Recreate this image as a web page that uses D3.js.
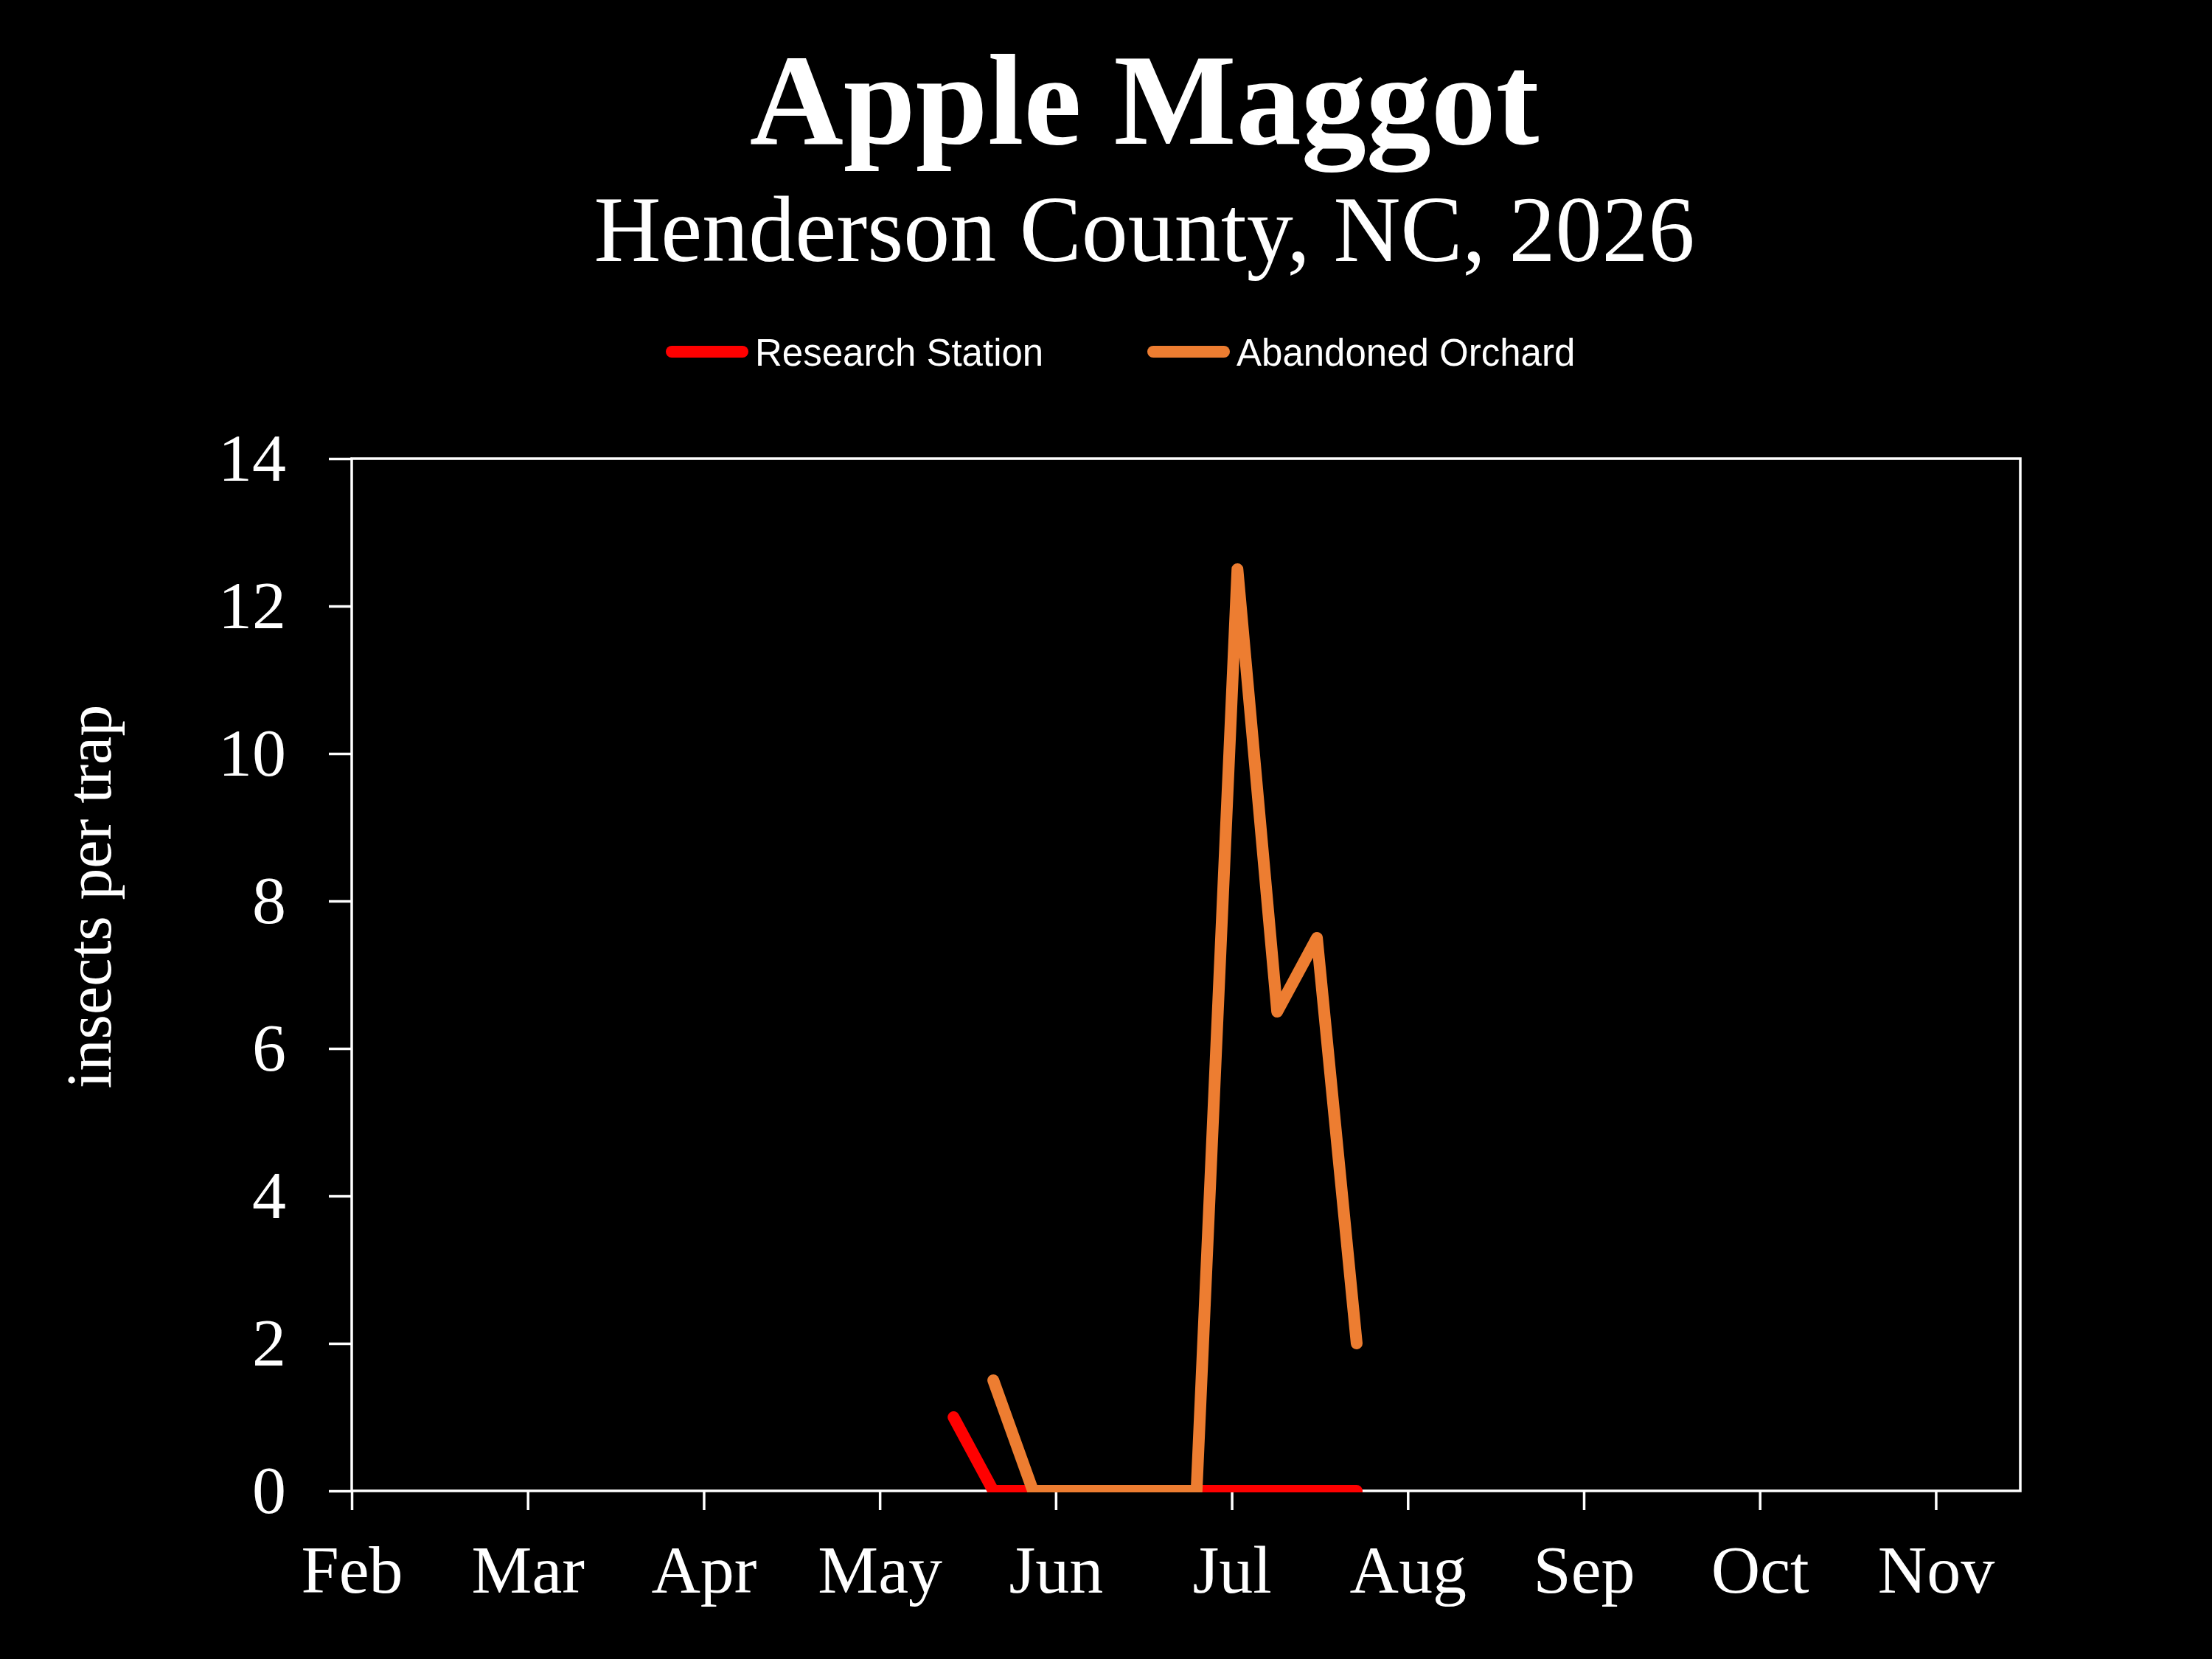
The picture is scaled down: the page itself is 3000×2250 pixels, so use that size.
<!DOCTYPE html>
<html>
<head>
<meta charset="utf-8">
<script src="https://cdn.jsdelivr.net/npm/d3@7"></script>
<style>
  html, body { margin: 0; padding: 0; background: #000; }
  svg { display: block; }
</style>
</head>
<body>
<div id="chart"></div>
<script>
// ---- Data ----
const monthLabels = ["Feb", "Mar", "Apr", "May", "Jun", "Jul", "Aug", "Sep", "Oct", "Nov"];
const yTicks = [0, 2, 4, 6, 8, 10, 12, 14];

const researchDates = ["2026-05-14", "2026-05-21", "2026-05-28", "2026-06-04", "2026-06-11",
  "2026-06-18", "2026-06-25", "2026-07-02", "2026-07-09", "2026-07-16", "2026-07-23"];
const researchValues = [1, 0, 0, 0, 0, 0, 0, 0, 0, 0, 0];

const orchardDates = ["2026-05-21", "2026-05-28", "2026-06-04", "2026-06-11", "2026-06-18",
  "2026-06-25", "2026-07-02", "2026-07-09", "2026-07-16", "2026-07-23"];
const orchardValues = [1.5, 0, 0, 0, 0, 0, 12.5, 6.5, 7.5, 2];

const seriesNames = ["Research Station", "Abandoned Orchard"];
const seriesColors = ["#FF0000", "#ED7D31"];

// ---- Layout ----
const W = 3000, H = 2250;
const plot = { left: 477, right: 2740, top: 622, bottom: 2022 };
const serif = "'Liberation Serif', 'DejaVu Serif', serif";
const sans = "'Liberation Sans', Arial, sans-serif";

// fractional month index from Feb 1
function monthPos(s) {
  const [y, m, d] = s.split("-").map(Number);
  const days = new Date(y, m, 0).getDate();
  return (m - 2) + (d - 1) / days;
}

const x = d3.scaleLinear().domain([0, 9.48]).range([plot.left, plot.right]);
const y = d3.scaleLinear().domain([0, 14]).range([plot.bottom, plot.top]);

const svg = d3.select("#chart").append("svg")
  .attr("width", W).attr("height", H)
  .style("background", "#000");

svg.append("rect").attr("width", W).attr("height", H).attr("fill", "#000");

// Titles
const cx = 1552;
svg.append("text").attr("x", cx).attr("y", 195)
  .attr("text-anchor", "middle").attr("fill", "#fff")
  .style("font-family", serif).style("font-weight", "bold").style("font-size", "176px")
  .text("Apple Maggot");
svg.append("text").attr("x", cx).attr("y", 354)
  .attr("text-anchor", "middle").attr("fill", "#fff")
  .style("font-family", serif).style("font-size", "126px")
  .text("Henderson County, NC, 2026");

// Legend
const legendItems = [
  { name: seriesNames[0], color: seriesColors[0], x0: 911, x1: 1007, tx: 1024 },
  { name: seriesNames[1], color: seriesColors[1], x0: 1564, x1: 1660, tx: 1677 }
];
const lg = svg.append("g");
legendItems.forEach(it => {
  lg.append("line").attr("x1", it.x0).attr("x2", it.x1).attr("y1", 477).attr("y2", 477)
    .attr("stroke", it.color).attr("stroke-width", 16).attr("stroke-linecap", "round");
  lg.append("text").attr("x", it.tx).attr("y", 496).attr("fill", "#fff")
    .style("font-family", sans).style("font-size", "51px")
    .text(it.name);
});

// Y axis
const yAxis = d3.axisLeft(y).tickValues(yTicks).tickSizeInner(31).tickSizeOuter(0).tickPadding(58);
const gy = svg.append("g").attr("transform", `translate(${plot.left},0)`).call(yAxis);
gy.select(".domain").remove();
gy.selectAll(".tick line").attr("stroke", "#fff").attr("stroke-width", 3.5);
gy.selectAll(".tick text").attr("fill", "#fff")
  .style("font-family", serif).style("font-size", "92px");

// X axis
const xAxis = d3.axisBottom(x).tickValues(d3.range(monthLabels.length))
  .tickFormat(i => monthLabels[i]).tickSizeInner(26).tickSizeOuter(0);
const gx = svg.append("g").attr("transform", `translate(0,${plot.bottom})`).call(xAxis);
gx.select(".domain").remove();
gx.selectAll(".tick line").attr("stroke", "#fff").attr("stroke-width", 3.5);
gx.selectAll(".tick text").attr("fill", "#fff").attr("y", 138).attr("dy", 0)
  .style("font-family", serif).style("font-size", "92px");

// Plot frame
svg.append("rect")
  .attr("x", plot.left).attr("y", plot.top)
  .attr("width", plot.right - plot.left).attr("height", plot.bottom - plot.top)
  .attr("fill", "none").attr("stroke", "#fff").attr("stroke-width", 3.5);

// Clip
svg.append("clipPath").attr("id", "clip").append("rect")
  .attr("x", plot.left).attr("y", plot.top - 40)
  .attr("width", plot.right - plot.left).attr("height", plot.bottom - plot.top + 42);

const line = d3.line().x(d => x(d[0])).y(d => y(d[1]));
const series = [
  { pts: researchDates.map((d, i) => [monthPos(d), researchValues[i]]), color: seriesColors[0] },
  { pts: orchardDates.map((d, i) => [monthPos(d), orchardValues[i]]), color: seriesColors[1] }
];
const gl = svg.append("g").attr("clip-path", "url(#clip)");
series.forEach(s => {
  gl.append("path").attr("d", line(s.pts)).attr("fill", "none")
    .attr("stroke", s.color).attr("stroke-width", 16)
    .attr("stroke-linecap", "round").attr("stroke-linejoin", "round");
});

// Y axis title
svg.append("text")
  .attr("transform", "translate(150,1216) rotate(-90)")
  .attr("text-anchor", "middle").attr("fill", "#fff")
  .style("font-family", serif).style("font-size", "86px")
  .text("insects per trap");
</script>
</body>
</html>
